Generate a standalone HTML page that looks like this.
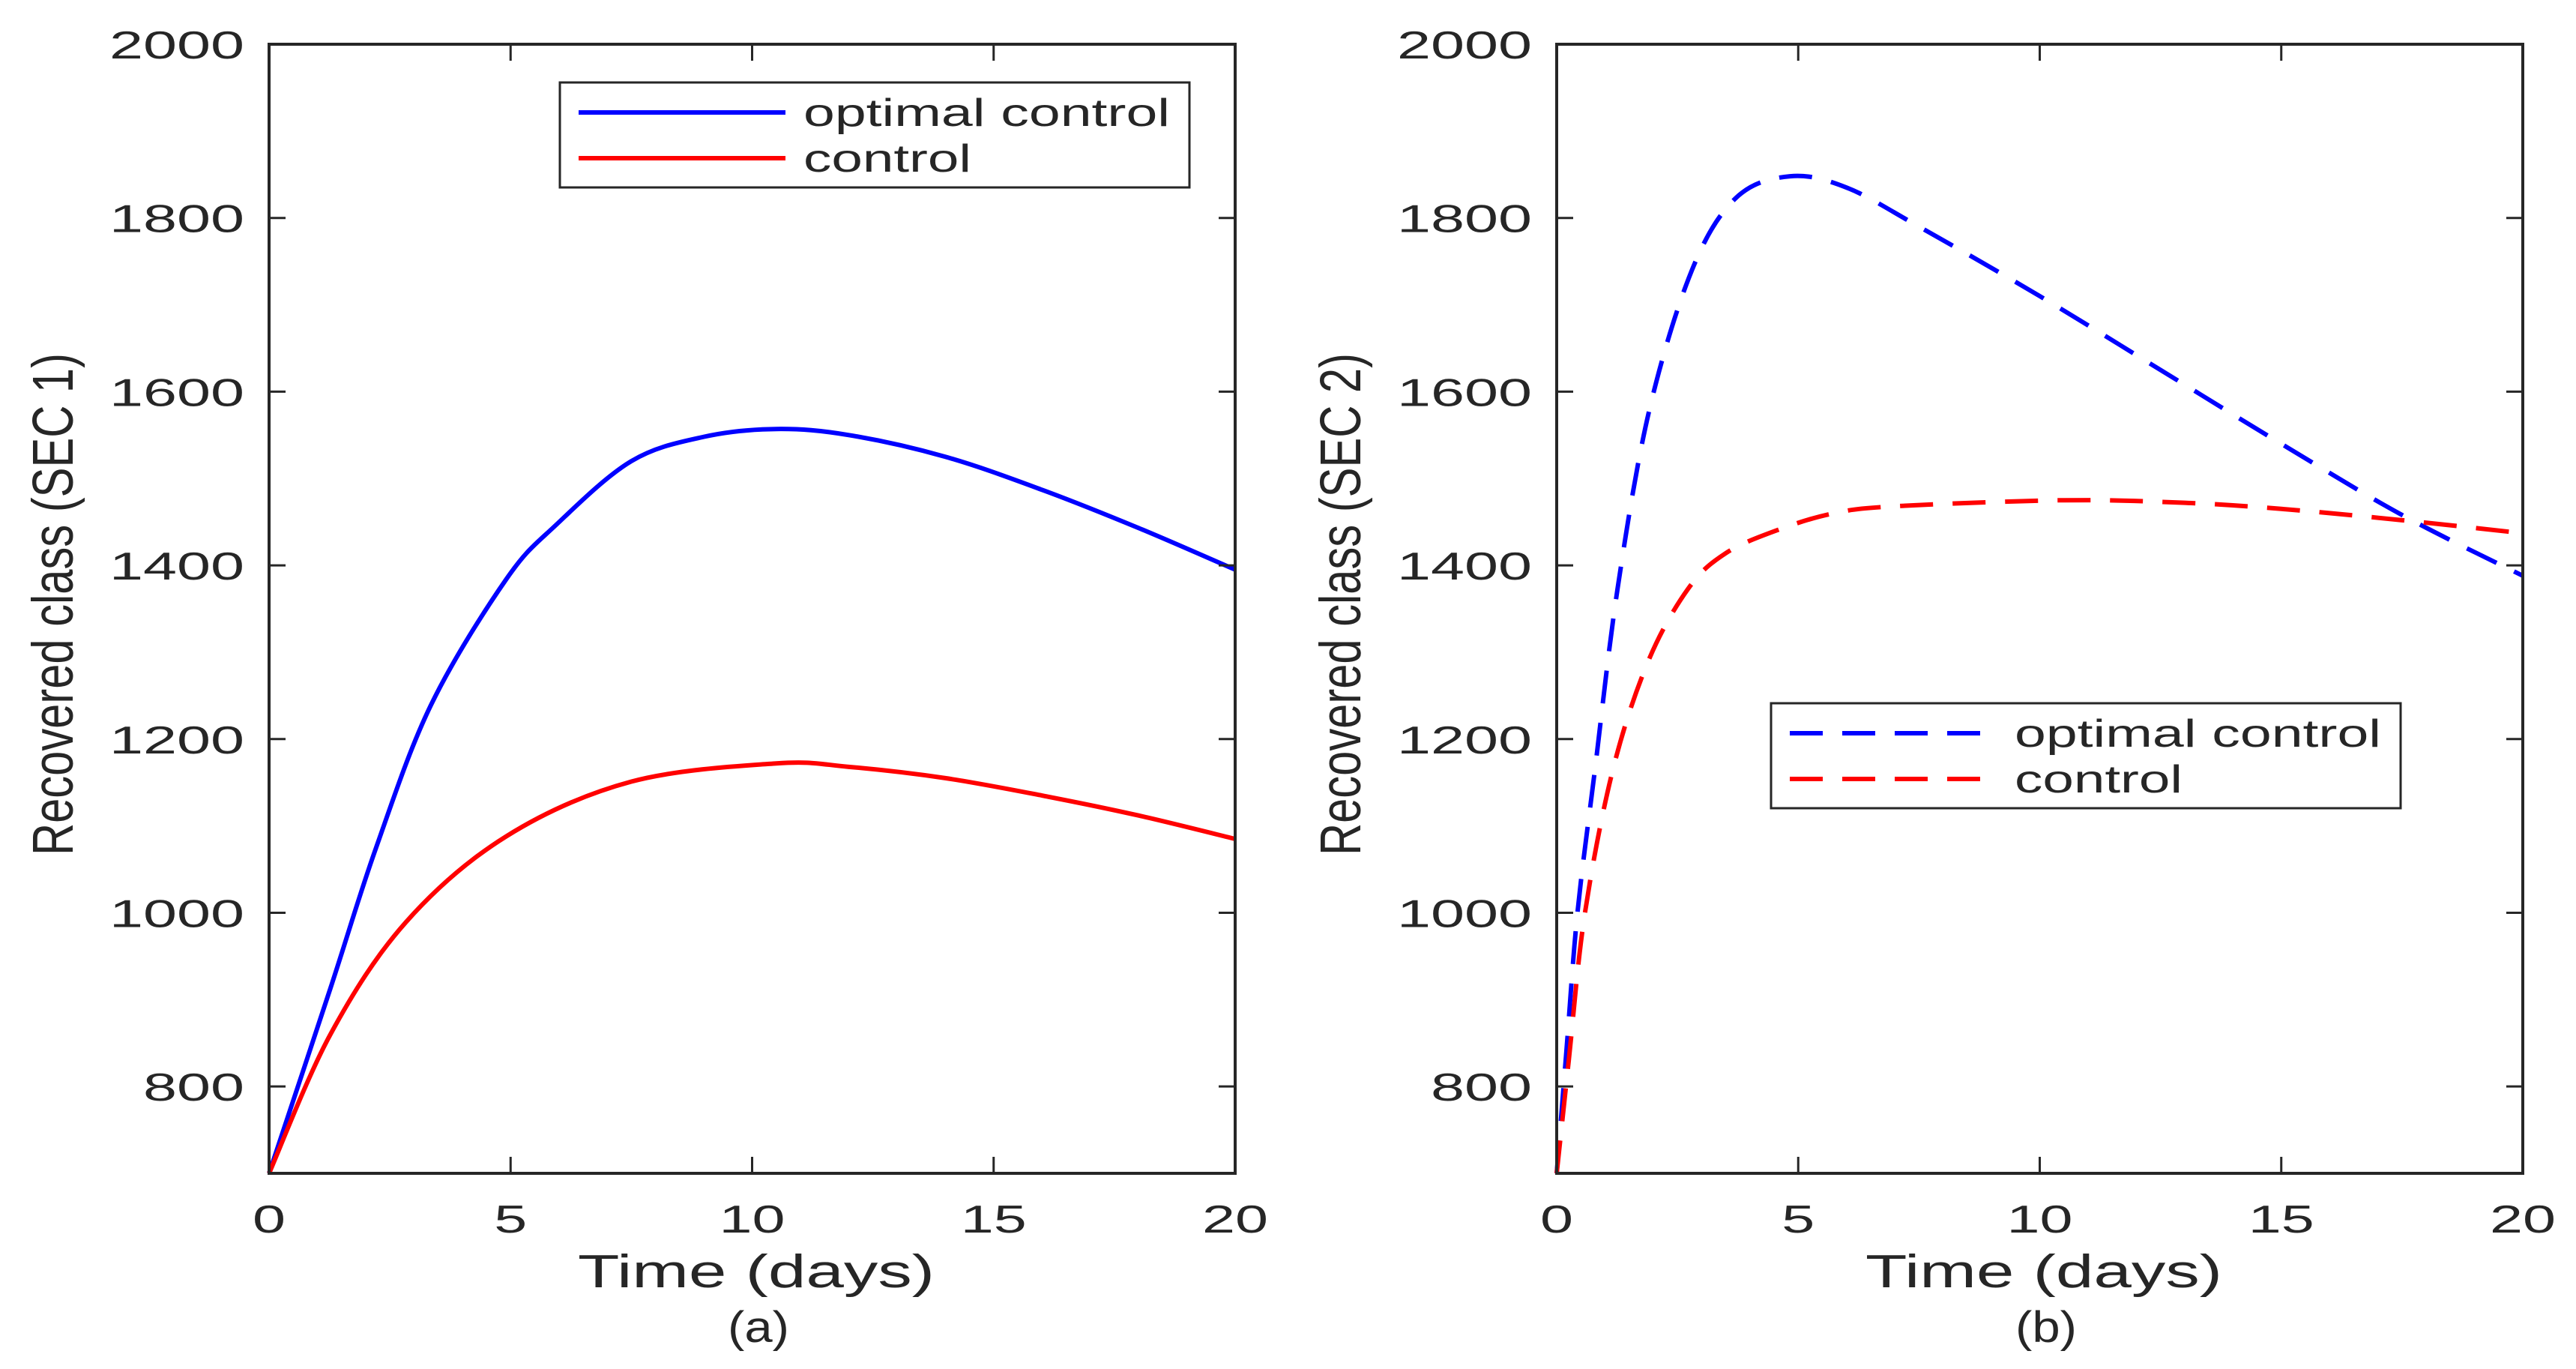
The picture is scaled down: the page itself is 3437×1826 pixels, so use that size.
<!DOCTYPE html>
<html><head><meta charset="utf-8"><style>
html,body{margin:0;padding:0;background:#fff;}
svg{display:block;font-family:"Liberation Sans",Arial,sans-serif;}
</style></head><body>
<svg id="fig" width="3437" height="1826" viewBox="0 0 3437 1826" xmlns="http://www.w3.org/2000/svg"></svg>
<script>
const xTicks=[0,5,10,15,20];
const yTicks=[800,1000,1200,1400,1600,1800,2000];
const aOptT=[0,1.27,2.21,3.35,4.91,5.95,7.5,9,10.5,12,14,16,18,20];
const aOptV=[700,913,1074,1239,1384,1447,1520,1548,1557,1550,1525,1487,1443,1395];
const aCtlT=[0,1.27,2.83,4.91,7.5,10.5,12,14,16,18,20];
const aCtlV=[700,860,989,1088,1151,1172,1168,1155,1135,1112,1085];
const bOptT=[0,0.2,0.43,0.79,1.26,1.91,2.8,3.71,4.83,6,7.5,10,12.5,15,17.5,20];
const bOptV=[700,840,1000,1164,1373,1577,1740,1823,1848,1835,1790,1710,1625,1540,1458,1388];
const bCtlT=[0,0.25,0.58,1.16,1.89,2.72,3.5,4.59,5.74,7,10.5,13,15,17.5,20];
const bCtlV=[700,830,998,1164,1289,1373,1414,1441,1460,1468,1475,1472,1465,1452,1437];
const legendLabels=["optimal control","control"];

const NS="http://www.w3.org/2000/svg";
const svg=document.getElementById('fig');
function mk(tag,attrs,parent){const e=document.createElementNS(NS,tag);for(const k in attrs)e.setAttribute(k,attrs[k]);(parent||svg).appendChild(e);return e;}
function txt(s,attrs,parent){const e=mk('text',attrs,parent);e.textContent=s;return e;}

function panel(x0,id,ylab,cap,series,leg){
  const x1=x0+1289,y0=59,y1=1565;
  const sx=t=>x0+(t-0)/20*(x1-x0);
  const sy=v=>y1-(v-700)/1300*(y1-y0);
  const g=mk('g',{});
  
  
  series.forEach(s=>{
    const pts=s.t.map((t,i)=>[sx(t),sy(s.v[i])]);
    let d='M'+pts[0][0]+','+pts[0][1];
    for(let i=0;i<pts.length-1;i++){
      const p0=pts[Math.max(0,i-1)],p1=pts[i],p2=pts[i+1],p3=pts[Math.min(pts.length-1,i+2)];
      const c1=[p1[0]+(p2[0]-p0[0])/6,p1[1]+(p2[1]-p0[1])/6];
      const c2=[p2[0]-(p3[0]-p1[0])/6,p2[1]-(p3[1]-p1[1])/6];
      d+=' C'+c1[0]+','+c1[1]+' '+c2[0]+','+c2[1]+' '+p2[0]+','+p2[1];
    }
    const p=mk('path',{d:d,fill:'none',stroke:s.c,'stroke-width':6,'stroke-dasharray':s.dash||'none'},g);
    
    
  });
  const box=mk('rect',{x:x0,y:y0,width:x1-x0,height:y1-y0,fill:'none',stroke:'#262626','stroke-width':4},g);
  
  
  xTicks.forEach(t=>{
    const X=sx(t);
    mk('line',{x1:X,y1:y1,x2:X,y2:y1-22,stroke:'#262626','stroke-width':3},g);
    mk('line',{x1:X,y1:y0,x2:X,y2:y0+22,stroke:'#262626','stroke-width':3},g);
    const s=String(t);
    const l=txt(s,{x:X,y:1644,'font-size':52,'text-anchor':'middle',fill:'#262626',textLength:s.length*44,lengthAdjust:'spacingAndGlyphs'},g);
    
    
  });
  yTicks.forEach(v=>{
    const Y=sy(v);
    mk('line',{x1:x0,y1:Y,x2:x0+22,y2:Y,stroke:'#262626','stroke-width':3},g);
    mk('line',{x1:x1,y1:Y,x2:x1-22,y2:Y,stroke:'#262626','stroke-width':3},g);
    const l=txt(String(v),{x:x0-33,y:Y+19,'font-size':52,'text-anchor':'end',fill:'#262626',textLength:String(v).length*45,lengthAdjust:'spacingAndGlyphs'},g);
    
    
  });
  const xl=txt('Time (days)',{x:x0+412,y:1717,'font-size':62,fill:'#262626',textLength:476,lengthAdjust:'spacingAndGlyphs'},g);
  
  
  const cp=txt(cap,{x:x0+653,y:1790,'font-size':58,'text-anchor':'middle',fill:'#262626',textLength:82,lengthAdjust:'spacingAndGlyphs'},g);
  
  
  const yl=txt(ylab,{x:0,y:0,'font-size':64,'text-anchor':'middle',fill:'#262626',textLength:670,lengthAdjust:'spacingAndGlyphs',transform:'translate('+(x0-262)+',806) rotate(-90) scale(1,1.2)'},g);
  
  
  const lg=mk('g',{},g);
  
  
  mk('rect',{x:x0+leg.x,y:leg.y,width:840,height:140,fill:'#fff',stroke:'#262626','stroke-width':3},lg);
  series.forEach((s,i)=>{
    const Y=leg.y+(i===0?40:101);
    mk('line',{x1:x0+leg.x+25,y1:Y,x2:x0+leg.x+25+leg.len,y2:Y,stroke:s.c,'stroke-width':6,'stroke-dasharray':s.dash||'none'},lg);
    const e=txt(legendLabels[i],{x:x0+leg.x+325,y:Y+18,'font-size':52,fill:'#262626',textLength:i===0?489:224,lengthAdjust:'spacingAndGlyphs'},lg);
    
    
  });
}
panel(359,'a','Recovered class (SEC 1)','(a)',[
  {t:aOptT,v:aOptV,c:'#0000ff',name:'optimal-control-line'},
  {t:aCtlT,v:aCtlV,c:'#ff0000',name:'control-line'}],
  {x:388,y:110,len:276});
panel(2077,'b','Recovered class (SEC 2)','(b)',[
  {t:bOptT,v:bOptV,c:'#0000ff',dash:'44 26',name:'optimal-control-line'},
  {t:bCtlT,v:bCtlV,c:'#ff0000',dash:'44 26',name:'control-line'}],
  {x:286,y:938,len:263});
</script>
</body></html>
